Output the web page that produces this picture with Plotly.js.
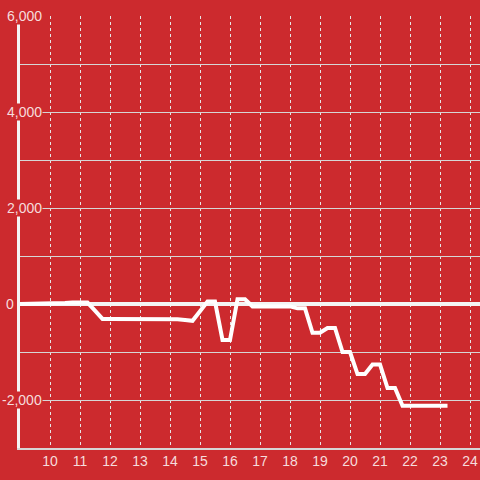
<!DOCTYPE html>
<html>
<head>
<meta charset="utf-8">
<script src="https://cdn.plot.ly/plotly-3.0.1.min.js"></script>
<style>
html,body{margin:0;padding:0;background:#cc2a2e;}
#chart{width:480px;height:480px;}
</style>
</head>
<body>
<div id="chart"></div>
<script>
const times = [9, 9.25, 9.5, 9.75, 10, 10.25, 10.5, 10.75, 11, 11.25, 11.5, 11.75,
  12, 12.25, 12.5, 12.75, 13, 13.25, 13.5, 13.75, 14, 14.25, 14.5, 14.75,
  15, 15.25, 15.5, 15.75, 16, 16.25, 16.5, 16.75, 17, 17.25, 17.5, 17.75,
  18, 18.25, 18.5, 18.75, 19, 19.25, 19.5, 19.75, 20, 20.25, 20.5, 20.75,
  21, 21.25, 21.5, 21.75, 22, 22.25, 22.5, 22.75, 23, 23.25];
const values = [0, 0, 0, 0, 0, 0, 20, 30, 30, 30, -140, -310,
  -310, -310, -310, -310, -310, -310, -310, -310, -310, -320, -335, -350,
  -150, 50, 50, -750, -750, 100, 100, -50, -50, -50, -50, -50,
  -50, -90, -90, -600, -600, -500, -500, -1000, -1000, -1460, -1460, -1260,
  -1260, -1750, -1750, -2120, -2120, -2120, -2120, -2120, -2120, -2120];
const xTickVals = [10, 11, 12, 13, 14, 15, 16, 17, 18, 19, 20, 21, 22, 23, 24];
const xTickText = ['10', '11', '12', '13', '14', '15', '16', '17', '18', '19', '20', '21', '22', '23', '24'];
const yTickVals = [6000, 4000, 2000, 0, -2000];
const yTickText = ['6,000', '4,000', '2,000', '0', '-2,000'];

const BG = '#cc2a2e';
const TXT = '#f6dcdc';
const FONT = 'Liberation Sans, Arial, sans-serif';

const annotations = yTickVals.map((v, i) => ({
  xref: 'paper', yref: 'y',
  x: v === 0 ? -0.0105 : 0.05,
  y: v, xanchor: 'right', yanchor: 'middle',
  text: yTickText[i], showarrow: false,
  bgcolor: BG, borderpad: 0,
  font: {family: FONT, size: 14, color: TXT}
}));

const trace = {
  x: times, y: values, type: 'scatter', mode: 'lines',
  line: {color: '#ffffff', width: 4},
  hoverinfo: 'skip'
};

const layout = {
  width: 480, height: 480,
  margin: {l: 20, r: 0, t: 16, b: 32},
  paper_bgcolor: BG, plot_bgcolor: BG,
  showlegend: false,
  font: {family: FONT, size: 14, color: TXT},
  xaxis: {
    range: [9, 24.333], tickmode: 'array', tickvals: xTickVals, ticktext: xTickText,
    showgrid: true, gridcolor: '#e6e6e6', gridwidth: 1, griddash: '3px,3px',
    zeroline: false, showline: true, linecolor: '#d6d6d6', linewidth: 1.5,
    ticks: '', tickfont: {family: FONT, size: 14, color: TXT}
  },
  yaxis: {
    range: [-3000, 6000], dtick: 1000, tick0: 0, showticklabels: false,
    showgrid: true, gridcolor: '#d6d6d6', gridwidth: 1,
    zeroline: true, zerolinecolor: '#f4f4f4', zerolinewidth: 3.5,
    showline: true, linecolor: '#f4f4f4', linewidth: 3, ticks: ''
  },
  annotations: annotations
};

Plotly.newPlot('chart', [trace], layout, {staticPlot: true, displayModeBar: false});
</script>
</body>
</html>
